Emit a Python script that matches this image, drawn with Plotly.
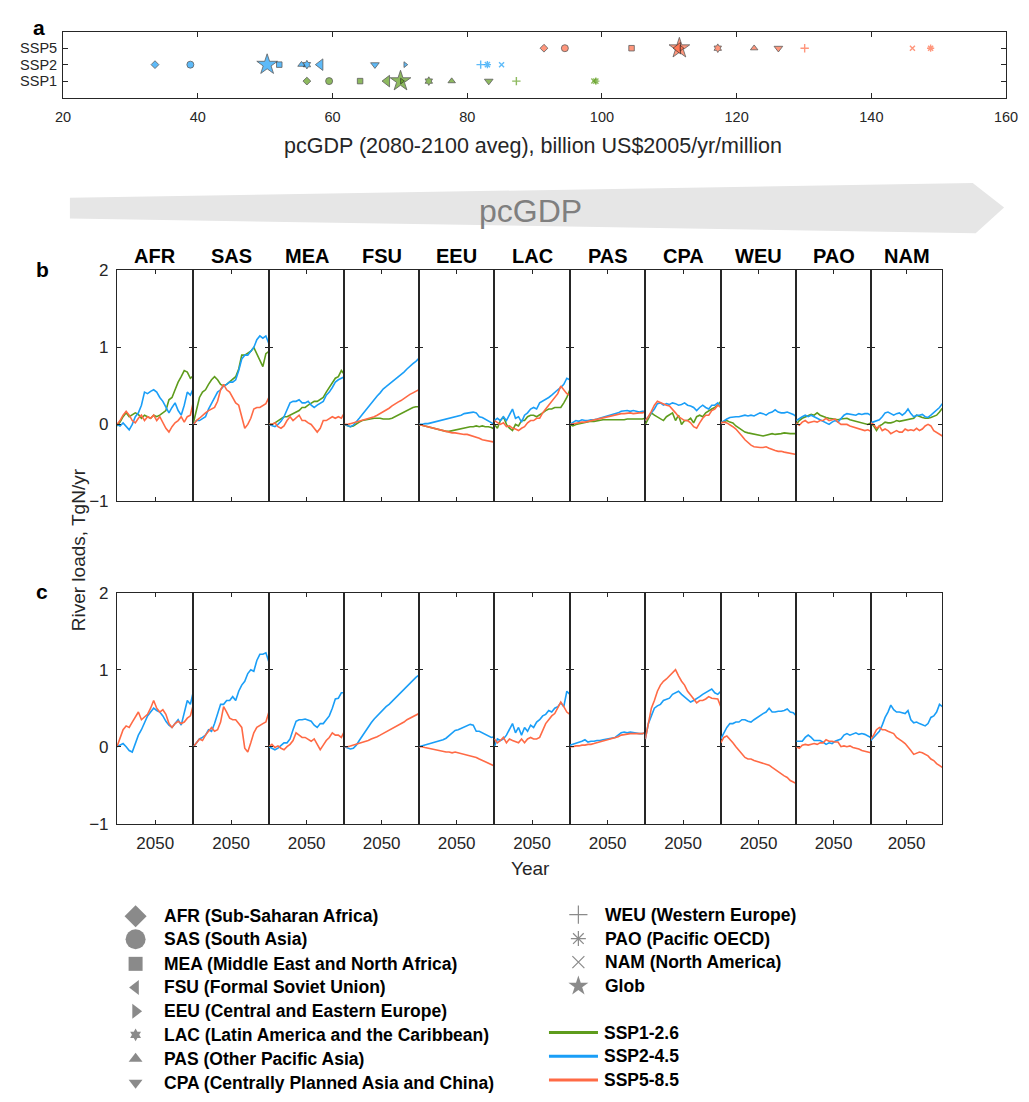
import plotly.graph_objects as go

# The page body keeps the browser's default 8px margin, so the figure is sized to fit
# inside the 1029x1102 window and reference pixel coordinates are shifted by that margin.
OFF = 8
FW, FH = 1029 - 2 * OFF, 1102 - 2 * OFF
def fx(x): return (x - OFF) / FW
def fy(y): return 1 - (y - OFF) / FH

FONT = "Arial, 'Liberation Sans', Helvetica, sans-serif"
AX = "#262626"
GREEN, BLUE, RED = "#5e9c1c", "#1a9ef7", "#ff6a45"

# ---------------- data ----------------
regions = ["AFR", "SAS", "MEA", "FSU", "EEU", "LAC", "PAS", "CPA", "WEU", "PAO", "NAM"]
region_names = ["Sub-Saharan Africa", "South Asia", "Middle East and North Africa",
                "Formal Soviet Union", "Central and Eastern Europe",
                "Latin America and the Caribbean", "Other Pacific Asia",
                "Centrally Planned Asia and China", "Western Europe", "Pacific OECD",
                "North America"]
a_regions = regions + ["Glob"]
ssp_rows = ["SSP1", "SSP2", "SSP5"]

# panel a: pcGDP (2080-2100 average), order = a_regions
gdp_ssp1 = [56.2, 59.5, 64.1, 68.1, 70.3, 74.3, 77.7, 83.2, 87.3, 99.1, 98.8, 70.1]
gdp_ssp2 = [33.65, 38.9, 52.1, 58.2, 70.8, 56.2, 55.4, 66.3, 82.0, 83.0, 85.1, 50.3]
gdp_ssp5 = [91.4, 94.5, 104.4, 111.3, 111.8, 117.2, 122.6, 126.2, 130.1, 148.8, 146.1, 111.5]

years = list(range(2000, 2101, 4))

# panel b: river N load change, TgN/yr
b_ssp1 = {
    "AFR": [-0.02, 0.03, 0.1, 0.15, 0.1, 0.12, 0.15, 0.13, 0.08, 0.12, 0.1, 0.08, 0.12, 0.1, 0.12, 0.15, 0.18, 0.32, 0.35, 0.45, 0.55, 0.62, 0.7, 0.68, 0.6, 0.63],
    "SAS": [0.02, 0.2, 0.35, 0.42, 0.45, 0.52, 0.58, 0.62, 0.58, 0.52, 0.5, 0.52, 0.55, 0.58, 0.62, 0.72, 0.9, 0.9, 0.92, 0.95, 1.0, 0.92, 0.85, 0.75, 0.92, 0.95],
    "MEA": [0.0, 0.0, 0.02, 0.05, 0.08, 0.1, 0.1, 0.12, 0.13, 0.15, 0.18, 0.22, 0.22, 0.25, 0.28, 0.3, 0.3, 0.32, 0.35, 0.42, 0.48, 0.55, 0.6, 0.62, 0.7, 0.65],
    "FSU": [0.0, -0.01, -0.03, -0.02, 0.01, 0.03, 0.05, 0.06, 0.07, 0.08, 0.08, 0.08, 0.08, 0.07, 0.07, 0.07, 0.08, 0.1, 0.12, 0.14, 0.17, 0.19, 0.21, 0.22, 0.23, 0.23],
    "EEU": [0.0, -0.01, -0.02, -0.03, -0.04, -0.05, -0.06, -0.07, -0.08, -0.09, -0.09, -0.08, -0.07, -0.06, -0.05, -0.05, -0.04, -0.03, -0.03, -0.02, -0.03, -0.02, -0.03, -0.03, -0.04, -0.06],
    "LAC": [0.0, -0.05, 0.05, 0.1, 0.0, -0.05, -0.08, 0.0, -0.02, 0.05, 0.05, 0.1, 0.12, 0.12, 0.1, 0.12, 0.15, 0.18, 0.2, 0.2, 0.22, 0.22, 0.22, 0.28, 0.35, 0.45],
    "PAS": [0.0, -0.02, 0.0, 0.01, 0.02, 0.02, 0.03, 0.04, 0.04, 0.05, 0.05, 0.06, 0.06, 0.06, 0.06, 0.06, 0.06, 0.06, 0.06, 0.07, 0.07, 0.07, 0.07, 0.07, 0.07, 0.08],
    "CPA": [0.0, 0.08, 0.15, 0.12, 0.1, 0.08, 0.05, 0.1, 0.12, 0.15, 0.05, 0.12, 0.0, 0.05, 0.05, 0.08, 0.02, 0.1, 0.12, 0.1, 0.15, 0.18, 0.2, 0.22, 0.25, 0.3],
    "WEU": [0.02, 0.04, 0.05, 0.03, 0.02, -0.02, -0.05, -0.07, -0.1, -0.11, -0.12, -0.13, -0.14, -0.14, -0.15, -0.14, -0.13, -0.12, -0.13, -0.12, -0.12, -0.11, -0.12, -0.12, -0.12, -0.12],
    "PAO": [0.0, 0.05, 0.08, 0.1, 0.12, 0.13, 0.12, 0.15, 0.12, 0.1, 0.09, 0.08, 0.07, 0.07, 0.06, 0.07, 0.08, 0.08, 0.06, 0.05, 0.04, 0.03, 0.03, 0.02, 0.0, 0.02],
    "NAM": [0.02, -0.02, -0.08, -0.02, 0.0, 0.03, 0.02, 0.02, 0.03, 0.05, 0.04, 0.05, 0.06, 0.06, 0.08, 0.08, 0.12, 0.1, 0.09, 0.08, 0.08, 0.09, 0.1, 0.12, 0.16, 0.21],
}
b_ssp2 = {
    "AFR": [0.0, -0.02, 0.02, -0.02, -0.07, 0.0, 0.1, 0.15, 0.25, 0.42, 0.4, 0.43, 0.45, 0.42, 0.35, 0.3, 0.22, 0.15, 0.22, 0.28, 0.18, 0.12, 0.25, 0.42, 0.38, 0.47],
    "SAS": [0.0, 0.05, 0.05, 0.08, 0.1, 0.2, 0.28, 0.35, 0.42, 0.45, 0.5, 0.52, 0.55, 0.55, 0.58, 0.7, 0.85, 0.9, 0.9, 0.95, 1.0, 1.1, 1.15, 1.12, 1.15, 1.05],
    "MEA": [0.0, -0.02, -0.03, 0.0, 0.04, 0.1, 0.2, 0.28, 0.3, 0.3, 0.32, 0.28, 0.28, 0.3, 0.25, 0.22, 0.25, 0.28, 0.3, 0.38, 0.42, 0.48, 0.55, 0.58, 0.6, 0.62],
    "FSU": [0.0, -0.02, -0.03, -0.01, 0.03, 0.08, 0.13, 0.18, 0.23, 0.28, 0.32, 0.37, 0.41, 0.46, 0.49, 0.52, 0.55, 0.58, 0.62, 0.65, 0.68, 0.72, 0.76, 0.79, 0.82, 0.86],
    "EEU": [0.0, 0.0, 0.01, 0.01, 0.02, 0.03, 0.04, 0.04, 0.05, 0.06, 0.08, 0.09, 0.1, 0.11, 0.12, 0.14, 0.15, 0.15, 0.16, 0.15, 0.1, 0.09, 0.07, 0.04, 0.02, 0.0],
    "LAC": [0.05, 0.08, 0.05, 0.1, 0.05, 0.12, 0.2, 0.08, 0.1, 0.03, 0.12, 0.15, 0.2, 0.22, 0.2, 0.28, 0.3, 0.32, 0.35, 0.38, 0.42, 0.45, 0.48, 0.52, 0.6, 0.58],
    "PAS": [0.0, 0.03, 0.05, 0.04, 0.06, 0.05, 0.05, 0.06, 0.06, 0.07, 0.08, 0.09, 0.1, 0.11, 0.12, 0.14, 0.15, 0.17, 0.18, 0.18, 0.17, 0.18, 0.17, 0.16, 0.17, 0.17],
    "CPA": [0.05, 0.1, 0.15, 0.2, 0.27, 0.28, 0.25, 0.27, 0.26, 0.28, 0.27, 0.25, 0.26, 0.28, 0.25, 0.24, 0.22, 0.18, 0.22, 0.25, 0.22, 0.2, 0.25, 0.25, 0.28, 0.22],
    "WEU": [0.02, 0.05, 0.07, 0.09, 0.1, 0.1, 0.1, 0.11, 0.12, 0.11, 0.12, 0.11, 0.13, 0.15, 0.14, 0.12, 0.15, 0.16, 0.19, 0.16, 0.15, 0.15, 0.16, 0.15, 0.13, 0.1],
    "PAO": [0.05, 0.08, 0.1, 0.12, 0.1, 0.12, 0.1, 0.08, 0.05, 0.03, 0.02, 0.0, 0.03, 0.05, 0.03, 0.08, 0.12, 0.14, 0.13, 0.12, 0.12, 0.14, 0.13, 0.14, 0.14, 0.12],
    "NAM": [0.02, 0.03, 0.05, 0.06, 0.1, 0.15, 0.16, 0.14, 0.12, 0.14, 0.15, 0.12, 0.15, 0.2, 0.14, 0.1, 0.12, 0.12, 0.13, 0.1, 0.09, 0.12, 0.15, 0.18, 0.22, 0.27],
}
b_ssp5 = {
    "AFR": [0.0, 0.05, 0.12, 0.17, 0.12, 0.05, 0.02, 0.08, 0.12, 0.05, 0.1, 0.08, 0.12, 0.05, 0.1, 0.02, -0.05, -0.1, -0.03, 0.02, 0.05, 0.1, 0.03, 0.1, 0.12, 0.3],
    "SAS": [0.0, 0.05, 0.08, 0.12, 0.15, 0.18, 0.2, 0.22, 0.3, 0.45, 0.52, 0.45, 0.42, 0.35, 0.28, 0.25, 0.1, -0.05, 0.0, 0.08, 0.2, 0.22, 0.22, 0.25, 0.27, 0.35],
    "MEA": [0.0, 0.0, 0.02, -0.03, -0.05, -0.02, 0.05, 0.1, 0.05, 0.08, 0.12, 0.05, 0.05, 0.02, 0.0, -0.05, -0.1, -0.05, 0.05, 0.05, 0.08, 0.1, 0.08, 0.1, 0.08, 0.15],
    "FSU": [0.0, 0.0, 0.01, 0.02, 0.04, 0.05, 0.06, 0.07, 0.08, 0.09, 0.1, 0.12, 0.14, 0.16, 0.19, 0.21, 0.24, 0.27, 0.29, 0.31, 0.34, 0.36, 0.39, 0.41, 0.43, 0.45],
    "EEU": [0.0, -0.01, -0.03, -0.04, -0.05, -0.06, -0.07, -0.08, -0.09, -0.1, -0.1, -0.11, -0.11, -0.12, -0.12, -0.13, -0.13, -0.14, -0.15, -0.16, -0.18, -0.2, -0.21, -0.22, -0.23, -0.23],
    "LAC": [0.05, 0.02, 0.0, 0.02, -0.03, -0.02, -0.05, -0.06, -0.08, -0.05, -0.03, 0.02, 0.05, 0.05, 0.08, 0.08, 0.15, 0.2, 0.25, 0.3, 0.35, 0.4, 0.5, 0.45, 0.4, 0.38],
    "PAS": [0.0, 0.01, 0.02, 0.02, 0.03, 0.03, 0.04, 0.05, 0.06, 0.07, 0.07, 0.08, 0.09, 0.1, 0.11, 0.12, 0.13, 0.14, 0.14, 0.15, 0.15, 0.14, 0.15, 0.15, 0.15, 0.16],
    "CPA": [0.05, 0.1, 0.17, 0.25, 0.3, 0.28, 0.27, 0.25, 0.24, 0.2, 0.15, 0.1, 0.08, 0.05, 0.05, 0.02, -0.03, -0.05, 0.02, 0.08, 0.12, 0.12, 0.18, 0.2, 0.25, 0.22],
    "WEU": [0.02, 0.03, 0.02, 0.0, -0.03, -0.06, -0.1, -0.15, -0.2, -0.24, -0.27, -0.29, -0.3, -0.3, -0.3, -0.29, -0.31, -0.33, -0.34, -0.35, -0.35, -0.36, -0.37, -0.37, -0.38, -0.39],
    "PAO": [0.02, -0.01, 0.03, 0.05, 0.02, 0.03, 0.04, 0.03, 0.05, 0.05, 0.08, 0.05, 0.06, 0.07, 0.03, 0.0, 0.0, 0.0, -0.02, -0.03, -0.05, -0.06, -0.07, -0.08, -0.07, -0.09],
    "NAM": [0.02, 0.0, -0.05, -0.02, -0.08, -0.06, -0.08, -0.12, -0.1, -0.08, -0.1, -0.1, -0.06, -0.08, -0.07, -0.08, -0.05, -0.08, -0.06, -0.02, 0.0, -0.02, -0.08, -0.1, -0.13, -0.15],
}

# panel c
c_ssp2 = {
    "AFR": [0.0, 0.02, 0.04, 0.0, -0.05, -0.07, 0.05, 0.15, 0.22, 0.32, 0.4, 0.45, 0.5, 0.47, 0.45, 0.4, 0.33, 0.28, 0.25, 0.3, 0.35, 0.28, 0.45, 0.6, 0.55, 0.72],
    "SAS": [0.0, 0.05, 0.1, 0.12, 0.15, 0.22, 0.2, 0.3, 0.42, 0.55, 0.55, 0.6, 0.6, 0.65, 0.6, 0.72, 0.8, 0.85, 0.95, 1.0, 0.98, 1.12, 1.2, 1.2, 1.22, 1.1],
    "MEA": [0.0, -0.02, -0.04, -0.02, 0.02, 0.05, 0.05, 0.1, 0.22, 0.33, 0.35, 0.35, 0.36, 0.35, 0.33, 0.28, 0.25, 0.3, 0.3, 0.35, 0.4, 0.5, 0.62, 0.63, 0.7, 0.7],
    "FSU": [0.0, -0.02, -0.03, -0.02, 0.02, 0.08, 0.14, 0.2, 0.26, 0.31, 0.36, 0.4, 0.45, 0.48, 0.52, 0.55, 0.59, 0.63, 0.67, 0.71, 0.75, 0.79, 0.83, 0.87, 0.9, 0.93],
    "EEU": [0.0, 0.01, 0.02, 0.03, 0.04, 0.05, 0.06, 0.08, 0.09, 0.11, 0.14, 0.18, 0.21, 0.22, 0.24, 0.26, 0.27, 0.29, 0.28, 0.2, 0.2, 0.18, 0.16, 0.14, 0.12, 0.13],
    "LAC": [0.0, 0.1, 0.08, 0.1, 0.15, 0.22, 0.3, 0.18, 0.25, 0.15, 0.25, 0.2, 0.28, 0.25, 0.32, 0.35, 0.4, 0.42, 0.47, 0.45, 0.5, 0.52, 0.57, 0.52, 0.72, 0.68],
    "PAS": [0.02, 0.03, 0.05, 0.06, 0.07, 0.09, 0.06, 0.07, 0.07, 0.08, 0.08, 0.09, 0.1, 0.11, 0.12, 0.12, 0.15, 0.18, 0.19, 0.18, 0.19, 0.18, 0.18, 0.17, 0.17, 0.18],
    "CPA": [0.1, 0.3, 0.4, 0.5, 0.53, 0.55, 0.6, 0.62, 0.63, 0.68, 0.7, 0.72, 0.68, 0.65, 0.62, 0.58, 0.6, 0.62, 0.65, 0.68, 0.7, 0.72, 0.75, 0.7, 0.68, 0.72],
    "WEU": [0.1, 0.18, 0.25, 0.3, 0.3, 0.32, 0.32, 0.35, 0.35, 0.33, 0.32, 0.35, 0.38, 0.4, 0.43, 0.45, 0.5, 0.45, 0.45, 0.46, 0.46, 0.47, 0.49, 0.45, 0.44, 0.4],
    "PAO": [0.07, 0.07, 0.07, 0.12, 0.15, 0.12, 0.08, 0.08, 0.08, 0.06, 0.03, 0.05, 0.04, 0.07, 0.08, 0.1, 0.15, 0.17, 0.15, 0.16, 0.18, 0.16, 0.17, 0.16, 0.14, 0.12],
    "NAM": [0.08, 0.12, 0.15, 0.2, 0.28, 0.38, 0.45, 0.54, 0.48, 0.45, 0.45, 0.44, 0.43, 0.47, 0.35, 0.31, 0.32, 0.3, 0.29, 0.27, 0.3, 0.38, 0.4, 0.45, 0.55, 0.52],
}
c_ssp5 = {
    "AFR": [0.0, 0.1, 0.22, 0.27, 0.25, 0.32, 0.38, 0.45, 0.35, 0.38, 0.42, 0.5, 0.6, 0.5, 0.45, 0.48, 0.42, 0.3, 0.25, 0.3, 0.33, 0.3, 0.32, 0.37, 0.4, 0.55],
    "SAS": [0.0, 0.05, 0.1, 0.08, 0.15, 0.2, 0.25, 0.2, 0.22, 0.32, 0.52, 0.45, 0.37, 0.35, 0.35, 0.3, 0.25, -0.02, -0.07, 0.05, 0.18, 0.25, 0.28, 0.3, 0.32, 0.45],
    "MEA": [0.0, 0.03, -0.01, 0.01, -0.02, -0.04, 0.0, 0.03, 0.08, 0.18, 0.15, 0.12, 0.12, 0.1, 0.07, 0.1, 0.02, -0.04, 0.02, 0.08, 0.12, 0.18, 0.15, 0.15, 0.12, 0.2],
    "FSU": [0.0, 0.0, 0.01, 0.02, 0.04, 0.05, 0.06, 0.07, 0.08, 0.1, 0.11, 0.13, 0.15, 0.17, 0.19, 0.21, 0.23, 0.26, 0.28, 0.3, 0.32, 0.35, 0.37, 0.39, 0.41, 0.43],
    "EEU": [0.0, 0.0, -0.01, -0.02, -0.03, -0.04, -0.05, -0.05, -0.06, -0.07, -0.07, -0.08, -0.07, -0.08, -0.09, -0.09, -0.1, -0.11, -0.12, -0.14, -0.16, -0.18, -0.2, -0.22, -0.24, -0.25],
    "LAC": [0.1, 0.05, 0.08, 0.12, 0.05, 0.1, 0.08, 0.06, 0.05, 0.1, 0.05, 0.1, 0.12, 0.1, 0.1, 0.12, 0.22, 0.3, 0.35, 0.4, 0.43, 0.5, 0.58, 0.52, 0.45, 0.42],
    "PAS": [0.0, 0.0, 0.01, 0.01, 0.02, 0.02, 0.03, 0.03, 0.04, 0.05, 0.06, 0.07, 0.08, 0.1, 0.11, 0.12, 0.13, 0.15, 0.16, 0.16, 0.17, 0.17, 0.17, 0.17, 0.17, 0.18],
    "CPA": [0.1, 0.32, 0.5, 0.6, 0.72, 0.8, 0.85, 0.88, 0.92, 0.95, 1.0, 0.92, 0.85, 0.8, 0.72, 0.67, 0.62, 0.57, 0.6, 0.6, 0.62, 0.65, 0.63, 0.62, 0.62, 0.52],
    "WEU": [0.05, 0.12, 0.14, 0.1, 0.05, 0.0, -0.05, -0.1, -0.14, -0.16, -0.16, -0.18, -0.19, -0.2, -0.21, -0.22, -0.24, -0.27, -0.3, -0.33, -0.36, -0.38, -0.4, -0.44, -0.46, -0.48],
    "PAO": [0.0, -0.02, 0.02, 0.03, 0.02, 0.03, 0.04, 0.03, 0.05, 0.05, 0.09, 0.07, 0.07, 0.06, 0.06, 0.0, 0.01, 0.0, 0.01, -0.01, -0.02, -0.03, -0.05, -0.06, -0.08, -0.08],
    "NAM": [0.1, 0.15, 0.22, 0.25, 0.22, 0.22, 0.2, 0.18, 0.17, 0.12, 0.1, 0.07, 0.04, 0.0, -0.05, -0.1, -0.08, -0.07, -0.08, -0.1, -0.12, -0.16, -0.18, -0.22, -0.25, -0.27],
}

# ---------------- styling constants ----------------
symbols = ["diamond", "circle", "square", "triangle-left", "triangle-right", "hexagram",
           "triangle-up", "triangle-down", "cross-thin-open", "asterisk-open", "x-thin-open", "star"]
sizes_a = [6, 7, 5.5, 10, 5, 6.5, 6.5, 7.5, 6, 6, 5, 15.5]
sizes_leg = [17, 20, 14, 13, 13, 9.5, 12, 12, 13, 12.5, 12, 15]
open_sym = [s.endswith("-open") for s in symbols]

panel_edges = [111, 189, 266, 343, 419, 496, 573, 650, 727, 804, 880, 953]
b_top, b_bot = 266, 501
c_top, c_bot = 594, 829

fig = go.Figure()
layout = dict(
    width=FW, height=FH, margin=dict(l=0, r=0, t=0, b=0),
    paper_bgcolor="white", plot_bgcolor="rgba(0,0,0,0)", showlegend=False,
    font=dict(family=FONT, color=AX),
)

def axis_common():
    return dict(showline=True, linecolor=AX, linewidth=1, mirror="ticks", ticks="inside",
                tickcolor=AX, ticklen=4, tickwidth=1, showgrid=False, zeroline=False)

# ---------------- panel a ----------------
layout["xaxis"] = dict(axis_common(), domain=[fx(56), fx(1018)], range=[20, 160],
                       tickvals=list(range(20, 161, 20)), tickfont=dict(size=14.5, color=AX),
                       anchor="y", ticklen=5, ticklabelstandoff=6, ticklabeloverflow="allow")
layout["yaxis"] = dict(axis_common(), domain=[fy(90), fy(23)], range=[0, 4],
                       tickvals=[1, 2, 3], ticktext=ssp_rows, tickfont=dict(size=14.5, color=AX),
                       anchor="x", ticklen=5, ticklabelstandoff=2)

order = [11] + list(range(11))  # Glob star first, regions drawn on top
for row, (vals, col) in enumerate([(gdp_ssp1, GREEN), (gdp_ssp2, BLUE), (gdp_ssp5, RED)]):
    fig.add_trace(go.Scatter(
        x=[vals[i] for i in order], y=[row + 1] * len(order), mode="markers",
        xaxis="x", yaxis="y", cliponaxis=False,
        marker=dict(symbol=[symbols[i] for i in order], size=[sizes_a[i] for i in order],
                    color=col,
                    line=dict(color=[col if open_sym[i] else "#1a1a1a" for i in order],
                              width=[1.4 if open_sym[i] else 0.8 for i in order])),
        hoverinfo="skip"))

# ---------------- panels b & c ----------------
annotations = []
for k, reg in enumerate(regions):
    x0, x1 = panel_edges[k], panel_edges[k + 1]
    for p, (top, bot, series) in enumerate([
            (b_top, b_bot, [(b_ssp1, GREEN), (b_ssp2, BLUE), (b_ssp5, RED)]),
            (c_top, c_bot, [(c_ssp2, BLUE), (c_ssp5, RED)])]):
        n = 2 + k + 11 * p
        xa, ya = f"xaxis{n}", f"yaxis{n}"
        layout[xa] = dict(axis_common(), domain=[fx(x0), fx(x1)], range=[2000, 2100],
                          tickvals=[2050], ticktext=["2050"], showticklabels=(p == 1),
                          tickfont=dict(size=17, color=AX), anchor=f"y{n}",
                          ticklabelstandoff=4)
        layout[ya] = dict(axis_common(), domain=[fy(bot), fy(top)], range=[-1, 2],
                          tickvals=[-1, 0, 1, 2], showticklabels=(k == 0),
                          tickfont=dict(size=17, color=AX), anchor=f"x{n}",
                          ticklabelstandoff=4)
        for ser, col in series:
            fig.add_trace(go.Scatter(x=years, y=ser[reg], mode="lines",
                                     line=dict(color=col, width=1.6),
                                     xaxis=f"x{n}", yaxis=f"y{n}", hoverinfo="skip"))
    annotations.append(dict(x=fx((x0 + x1) / 2), y=fy(251.7), text=f"<b>{reg}</b>",
                            font=dict(size=20, color="black")))

# ---------------- text ----------------
annotations += [
    dict(x=fx(31.7), y=fy(18.3), text="<b>a</b>", font=dict(size=21, color="black")),
    dict(x=fx(35), y=fy(265), text="<b>b</b>", font=dict(size=21, color="black")),
    dict(x=fx(35), y=fy(593), text="<b>c</b>", font=dict(size=21, color="black")),
    dict(x=fx(535), y=fy(139.3), text="pcGDP (2080-2100 aveg), billion US$2005/yr/million",
         font=dict(size=21.5, color=AX)),
    dict(x=fx(533), y=fy(205), text="pcGDP", font=dict(size=32, color="#7f7f7f")),
    dict(x=fx(533), y=fy(875), text="Year", font=dict(size=19, color=AX)),
    dict(x=fx(72), y=fy(550), text="River loads, TgN/yr", textangle=-90,
         font=dict(size=19, color=AX)),
]

# ---------------- custom legend ----------------
layout["xaxis24"] = dict(domain=[0, 1], range=[OFF, OFF + FW], visible=False, anchor="y24", fixedrange=True)
layout["yaxis24"] = dict(domain=[0, 1], range=[OFF + FH, OFF], visible=False, anchor="x24", fixedrange=True)
left_rows = [923.3, 946.7, 971.7, 995.7, 1020, 1044, 1068.3, 1092.7]
right_rows = [921.7, 946, 970, 994.3]
leg_x, leg_y = [], []
for i in range(12):
    if i < 8:
        leg_x.append(130); leg_y.append(left_rows[i])
        tx, ty = 156.7, left_rows[i]
    else:
        leg_x.append(581.7); leg_y.append(right_rows[i - 8])
        tx, ty = 607.3, right_rows[i - 8]
    label = f"{a_regions[i]} ({region_names[i]})" if i < 11 else "Glob"
    annotations.append(dict(x=fx(tx), y=fy(ty), xanchor="left", text=f"<b>{label}</b>",
                            font=dict(size=17.5, color="black")))
fig.add_trace(go.Scatter(x=leg_x, y=leg_y, mode="markers", xaxis="x24", yaxis="y24",
                         cliponaxis=False, hoverinfo="skip",
                         marker=dict(symbol=symbols, size=sizes_leg, color="#595959",
                                     line=dict(color="#595959",
                                               width=[1.2 if o else 0 for o in open_sym]))))
for lbl, col, yy in [("SSP1-2.6", GREEN, 1041.7), ("SSP2-4.5", BLUE, 1065.7), ("SSP5-8.5", RED, 1090)]:
    fig.add_trace(go.Scatter(x=[551.7, 601.7], y=[yy, yy], mode="lines", xaxis="x24", yaxis="y24",
                             cliponaxis=False, hoverinfo="skip", line=dict(color=col, width=3)))
    annotations.append(dict(x=fx(606), y=fy(yy), xanchor="left", text=f"<b>{lbl}</b>",
                            font=dict(size=17.5, color="black")))

for a in annotations:
    a.setdefault("xref", "paper"); a.setdefault("yref", "paper")
    a.setdefault("showarrow", False)
    a.setdefault("xanchor", "center"); a.setdefault("yanchor", "middle")
layout["annotations"] = annotations

# ---------------- pcGDP arrow ----------------
pts = [(63, 192), (984, 177), (1016, 202), (987, 228), (63, 213)]
path = "M " + " L ".join(f"{fx(x):.5f},{fy(y):.5f}" for x, y in pts) + " Z"
layout["shapes"] = [dict(type="path", xref="paper", yref="paper", path=path,
                         fillcolor="#e6e6e6", line=dict(width=0), layer="below")]

fig.update_layout(**layout)
fig.write_html("out.html", config={"displayModeBar": False})
